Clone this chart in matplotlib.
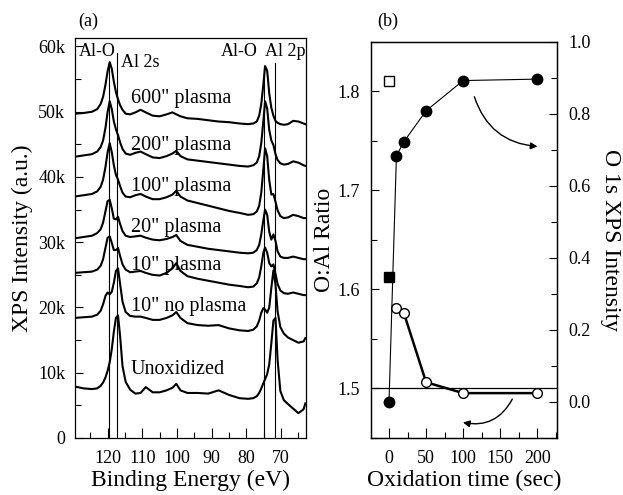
import matplotlib
matplotlib.use('Agg')
import matplotlib.pyplot as plt
from matplotlib.ticker import MultipleLocator, FixedLocator

plt.rcParams['font.family'] = ['Liberation Serif', 'DejaVu Serif']

# ---- panel (a): XPS spectra (intensity in thousands of counts) ----
energy = [129.5, 127, 124.5, 123, 122, 121.3, 120.6, 120.0, 119.4, 118.8,
          118.2, 117.6, 117.0, 116.4, 115.7, 114.8, 113.5, 112, 110.5, 109,
          107, 105, 103, 101.3, 100.2, 99, 97, 94, 91, 88,
          85, 82, 79.5, 78, 77, 76.3, 75.7, 75.1, 74.6, 74.0,
          73.4, 72.8, 72.2, 71.6, 71.0, 70.2, 69.2, 68, 66.5, 65,
          63.5, 63]

s600 = [49.7, 49.8, 50.0, 50.4, 51.2, 52.3, 54.2, 56.2, 57.6, 56.6,
        54.6, 53.0, 51.9, 51.0, 50.3, 49.7, 49.6, 49.9, 50.3, 49.9,
        49.4, 49.3, 49.6, 49.9, 49.6, 49.3, 49.0, 48.9, 48.7, 48.5,
        48.4, 48.2, 48.1, 48.2, 48.5, 49.4, 51.2, 54.2, 57.0, 56.3,
        52.8, 50.6, 49.4, 48.6, 48.3, 48.1, 48.0, 48.1, 48.6, 48.5,
        48.2, 48.1]
s200 = [43.1, 43.3, 43.5, 43.9, 44.6, 45.6, 47.6, 50.0, 51.6, 50.4,
        48.5, 47.3, 46.4, 45.3, 44.3, 43.6, 43.4, 43.7, 43.9, 43.5,
        43.0, 42.9, 43.2, 43.6, 44.0, 43.2, 42.7, 42.5, 42.3, 42.1,
        41.9, 41.7, 41.6, 41.8, 42.2, 43.2, 45.2, 48.6, 51.6, 50.5,
        47.2, 45.6, 44.9, 43.5, 42.6, 42.1, 41.9, 42.0, 42.4, 42.2,
        41.8, 41.7]
s100 = [37.0, 37.2, 37.4, 37.8, 38.5, 39.6, 41.6, 43.8, 45.2, 43.8,
        41.8, 40.3, 39.6, 38.6, 37.6, 37.0, 36.9, 37.2, 37.4, 37.0,
        36.6, 36.6, 36.9, 37.3, 37.9, 37.0, 36.4, 36.0, 35.6, 35.2,
        34.8, 34.5, 34.2, 34.3, 34.7, 35.6, 37.6, 41.2, 44.4, 43.2,
        39.5, 37.3, 37.4, 36.2, 34.9, 34.0, 33.7, 33.8, 34.2, 34.0,
        33.7, 33.7]
s20 = [30.6, 30.8, 31.0, 31.4, 32.0, 33.0, 34.8, 36.3, 36.5, 35.2,
       33.6, 33.5, 33.9, 32.8, 31.7, 31.0, 30.8, 30.9, 31.0, 30.7,
       30.4, 30.3, 30.5, 30.8, 31.1, 30.2, 29.6, 29.3, 29.0, 28.8,
       28.6, 28.4, 28.3, 28.4, 28.8, 29.6, 31.2, 33.4, 35.0, 34.2,
       31.6, 30.4, 31.2, 30.2, 28.6, 27.8, 27.6, 27.6, 27.8, 27.6,
       27.4, 27.4]
s10 = [25.3, 25.4, 25.5, 25.8, 26.4, 27.4, 29.2, 30.7, 30.9, 29.9,
       28.8, 28.8, 29.1, 27.9, 26.6, 25.8, 25.4, 25.5, 25.6, 25.3,
       25.0, 24.9, 25.3, 26.0, 26.8, 25.6, 24.8, 24.4, 24.1, 23.8,
       23.5, 23.3, 23.1, 23.2, 23.7, 24.6, 26.3, 28.4, 29.2, 28.4,
       26.8, 26.3, 26.6, 25.2, 23.6, 22.6, 22.2, 22.1, 22.3, 22.1,
       21.9, 21.9]
s10np = [18.4, 18.5, 18.6, 18.9, 19.5, 20.5, 21.8, 22.3, 22.0, 22.4,
         23.8, 25.6, 26.0, 23.6, 20.9, 19.3, 18.7, 18.6, 18.6, 18.4,
         18.1, 18.1, 18.4, 18.8, 19.3, 18.4, 17.6, 17.3, 17.2, 17.3,
         16.8, 16.5, 16.4, 16.6, 17.1, 18.0, 19.2, 19.9, 19.7, 19.2,
         20.0, 23.0, 25.7, 23.5, 19.4, 17.0, 16.0, 15.4, 15.0, 14.6,
         14.8, 15.3]
sunox = [7.9, 7.6, 7.5, 7.6, 8.0, 8.5, 9.3, 10.3, 11.6, 13.6,
         16.3, 18.4, 18.8, 15.6, 11.0, 8.6, 7.4, 6.8, 6.9, 7.8,
         7.0, 7.0, 7.3, 7.7, 8.3, 7.3, 6.9, 6.9, 6.8, 7.3,
         6.6, 6.1, 6.0, 6.1, 6.4, 6.9, 7.6, 8.4, 9.0, 9.8,
         11.3, 14.5, 18.0, 18.4, 12.0, 7.2, 5.8, 5.2, 4.5, 3.8,
         4.4, 5.3]

spectra = [s600, s200, s100, s20, s10, s10np, sunox]
spec_names = ['600" plasma', '200" plasma', '100" plasma', '20" plasma',
              '10" plasma', '10" no plasma', 'Unoxidized']
name_y = [52.0, 44.9, 38.5, 32.3, 26.5, 20.1, 10.5]

peak_lines = [119.5, 117.15, 74.8, 71.8]
peak_tops = [57.5, 59.0, 57.0, 57.4]
peak_names = ['Al-O', 'Al 2s', 'Al-O', 'Al 2p']
peak_name_x = [128.3, 116.0, 87.5, 74.6]
peak_name_y = [59.2, 57.6, 59.2, 59.2]

y_ticks = [0, 10, 20, 30, 40, 50, 60]
y_ticklabels = ['0', '10k', '20k', '30k', '40k', '50k', '60k']

# ---- panel (b) ----
t_ratio = [10, 20, 50, 100, 200]
ratio = [1.581, 1.576, 1.506, 1.495, 1.495]
t_o1s = [0, 10, 20, 50, 100, 200]
o1s = [0.0, 0.683, 0.722, 0.808, 0.892, 0.896]
t_np = 0
ratio_np = 1.81
o1s_np = 0.345

fig = plt.figure(figsize=(6.23, 4.95), dpi=100)

ax1 = fig.add_axes([0.1204, 0.1152, 0.3708, 0.808])
for s in spectra:
    ax1.plot(energy, s, color='k', lw=1.5)
for e, top in zip(peak_lines, peak_tops):
    ax1.plot([e, e], [0, top], color='k', lw=0.8)
for txt, x, y in zip(peak_names, peak_name_x, peak_name_y):
    ax1.text(x, y, txt, fontsize=13, ha='left', va='center')
for txt, y in zip(spec_names, name_y):
    ax1.text(113.3, y, txt, fontsize=14.5, ha='left', va='center')

ax1.set_xlim(129.4, 62.8)
ax1.set_ylim(0, 61.3)
ax1.xaxis.set_major_locator(FixedLocator([120, 110, 100, 90, 80, 70]))
ax1.xaxis.set_minor_locator(MultipleLocator(5))
ax1.set_yticks(y_ticks)
ax1.set_yticklabels(y_ticklabels)
ax1.yaxis.set_minor_locator(MultipleLocator(5))
ax1.tick_params(which='both', direction='in', top=False, right=False,
                labelsize=13, width=0.8)
ax1.tick_params(axis='x', which='major', length=7, pad=9)
ax1.tick_params(axis='x', which='minor', length=4)
ax1.tick_params(axis='y', which='major', length=6, pad=7)
ax1.tick_params(axis='y', which='minor', length=4)
ax1.set_xlabel('Binding Energy (eV)', fontsize=17, labelpad=2)
ax1.set_ylabel('XPS Intensity (a.u.)', fontsize=17, labelpad=4)
for sp in ax1.spines.values():
    sp.set_linewidth(0.9)

ax2 = fig.add_axes([0.5955, 0.1158, 0.2986, 0.80])
ax3 = ax2.twinx()

ax2.axhline(1.5, color='k', lw=0.9)
ax2.plot(t_ratio, ratio, color='k', lw=1.8, marker='o', ms=7,
         mfc='white', mec='k', mew=1.0, zorder=3)
ax2.plot([t_np], [ratio_np], ls='none', marker='s', ms=6.5,
         mfc='white', mec='k', mew=1.0)
ax3.plot(t_o1s, o1s, color='k', lw=0.8, marker='o', ms=7.5, mfc='k', mec='k')
ax3.plot([t_np], [o1s_np], ls='none', marker='s', ms=6.5, mfc='k', mec='k')

ax2.annotate('', xy=(204, 1.744), xytext=(114, 1.797),
             arrowprops=dict(arrowstyle='-|>', color='k', lw=1.0,
                             mutation_scale=10,
                             connectionstyle='arc3,rad=0.35'))
ax2.annotate('', xy=(96, 1.466), xytext=(168, 1.4915),
             arrowprops=dict(arrowstyle='-|>', color='k', lw=1.0,
                             mutation_scale=10,
                             connectionstyle='arc3,rad=-0.4'))

ax2.set_xlim(-24.3, 226.6)
ax2.set_ylim(1.45, 1.85)
ax3.set_ylim(-0.1, 1.0)
ax2.xaxis.set_major_locator(FixedLocator([0, 50, 100, 150, 200]))
ax2.xaxis.set_minor_locator(MultipleLocator(25))
ax2.yaxis.set_major_locator(FixedLocator([1.5, 1.6, 1.7, 1.8]))
ax2.yaxis.set_minor_locator(MultipleLocator(0.05))
ax3.set_yticks([0.0, 0.2, 0.4, 0.6, 0.8, 1.0])
ax3.set_yticklabels(['0.0', '0.2', '0.4', '0.6', '0.8', '1.0'])
ax3.yaxis.set_minor_locator(MultipleLocator(0.1))

ax2.tick_params(which='both', direction='in', top=False, right=False,
                labelsize=13, width=0.8)
ax2.tick_params(axis='x', which='major', length=7, pad=9)
ax2.tick_params(axis='x', which='minor', length=4)
ax2.tick_params(axis='y', which='major', length=6, pad=8)
ax2.tick_params(axis='y', which='minor', length=4)
ax3.tick_params(which='both', direction='in', labelsize=13, width=0.8)
ax3.tick_params(which='major', length=6, pad=8)
ax3.tick_params(which='minor', length=4)

ax2.set_xlabel('Oxidation time (sec)', fontsize=17, labelpad=2)
ax2.set_ylabel('O:Al Ratio', fontsize=17, labelpad=2)
ax3.set_ylabel('O 1s XPS Intensity', fontsize=17, rotation=270, labelpad=22)
for a in (ax2, ax3):
    for sp in a.spines.values():
        sp.set_linewidth(0.9)

fig.text(78 / 623, 1 - 21 / 495, '(a)', fontsize=13, ha='left', va='center')
fig.text(377 / 623, 1 - 21 / 495, '(b)', fontsize=13, ha='left', va='center')

fig.savefig('out.png', dpi=100)
